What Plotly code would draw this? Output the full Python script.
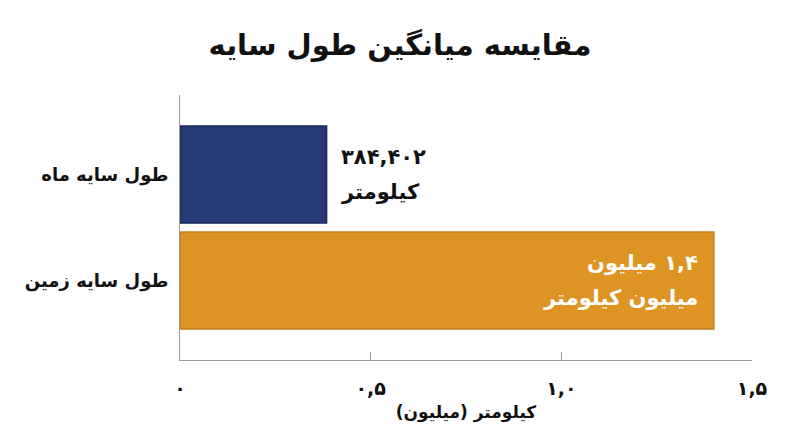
import plotly.graph_objects as go

# data
categories = ["طول سایه ماه", "طول سایه زمین"]
values = [0.384402, 1.4]  # million km
label_line1 = ["۳۸۴,۴۰۲", "\u200f۱,۴ میلیون"]
label_line2 = ["کیلومتر", "میلیون کیلومتر"]
tick_vals = [0, 0.5, 1.0, 1.5]
tick_text = ["۰", "۰,۵", "۱,۰", "۱,۵"]

bar_colors = ["#263a75", "#de9423"]
line_colors = ["#1b2a58", "#c47f1c"]
FONT = "DejaVu Sans"

fig = go.Figure(
    go.Bar(
        x=values,
        y=categories,
        orientation="h",
        marker={"color": bar_colors, "line": {"color": line_colors, "width": 1.5}},
        hoverinfo="skip",
    )
)

# value labels: first one outside the bar, second inside at the end
# each line is its own annotation so the line spacing can be opened up
for i, (cat, val) in enumerate(zip(categories, values)):
    outside = i == 0
    for text, shift in ((label_line1[i], 18), (label_line2[i], -17)):
        fig.add_annotation(
            x=val,
            y=cat,
            text=text,
            showarrow=False,
            xanchor="left" if outside else "right",
            yanchor="middle",
            xshift=12 if outside else -14,
            yshift=shift,
            font={"family": FONT, "size": 21, "color": "#111111" if outside else "white", "weight": "bold"},
        )

fig.update_layout(
    width=800,
    height=447,
    plot_bgcolor="white",
    paper_bgcolor="white",
    showlegend=False,
    bargap=0.085,
    margin={"l": 180, "r": 48, "t": 95, "b": 87},
    font={"family": FONT, "color": "#111111"},
    title={
        "text": "مقایسه میانگین طول سایه",
        "x": 0.5,
        "xanchor": "center",
        "y": 0.9,
        "yanchor": "middle",
        "font": {"family": FONT, "size": 29, "weight": "bold", "color": "#111111"},
    },
)
fig.update_xaxes(
    range=[0, 1.5],
    tickvals=tick_vals,
    ticktext=tick_text,
    ticks="inside",
    ticklen=8,
    tickcolor="#9a9a9a",
    showline=True,
    linecolor="#9a9a9a",
    linewidth=1,
    showgrid=False,
    zeroline=False,
    ticklabelstandoff=11,
    tickfont={"family": FONT, "size": 19, "weight": "bold", "color": "#111111"},
    title={
        "text": "\u200fکیلومتر (میلیون)\u200f",
        "standoff": 8,
        "font": {"family": FONT, "size": 17, "weight": "bold", "color": "#111111"},
    },
)
fig.update_yaxes(
    range=[1.75, -0.75],
    showline=True,
    linecolor="#9a9a9a",
    linewidth=1,
    ticks="",
    showgrid=False,
    ticklabelstandoff=7,
    tickfont={"family": FONT, "size": 18, "weight": "bold", "color": "#111111"},
)

fig.write_html(
    "out.html",
    config={"displayModeBar": False},
    post_script="document.body.style.margin = '0';",
)
